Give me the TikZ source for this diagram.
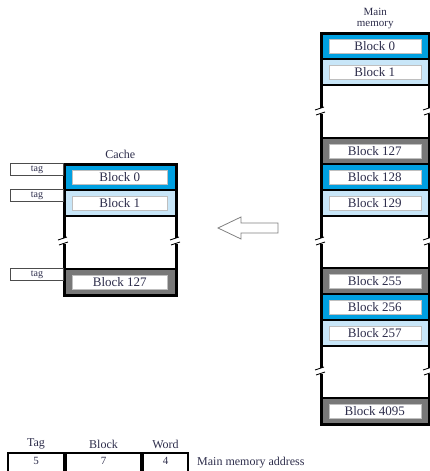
\documentclass[tikz,border=0pt]{standalone}
\usepackage{fontspec}
\setmainfont{Liberation Serif}
\usetikzlibrary{positioning}
\definecolor{blkblue}{RGB}{0,160,225}
\definecolor{blklight}{RGB}{200,230,248}
\definecolor{blkgray}{RGB}{120,120,120}
\definecolor{inktext}{RGB}{45,45,75}
\tikzset{
  row/.style={draw=black, line width=1.5pt, minimum height=26pt, inner sep=0pt, anchor=north west},
  blabel/.style={fill=white, draw=gray!50, minimum height=14pt, inner sep=0pt,
    font=\fontsize{13}{13}\selectfont, text=inktext},
  tagbox/.style={draw=black!70, line width=0.8pt, minimum width=53pt, minimum height=12pt,
    inner sep=0pt, anchor=north west, font=\fontsize{10}{10}\selectfont, text=inktext},
  field/.style={draw=black, line width=2pt, minimum height=24pt, inner sep=0pt, anchor=north west},
  txt/.style={font=\fontsize{12}{10}\selectfont, text=inktext, inner sep=1pt}
}
\newcommand{\cutmark}[2]{%
  \fill[white] (#1-4,#2-3) rectangle (#1+4,#2+3);
  \draw[line width=0.9pt] (#1-5,#2-1) -- (#1+4,#2-4);
  \draw[line width=0.9pt] (#1-4,#2+4) -- (#1+5,#2+1);
}

\begin{document}
\begin{tikzpicture}[x=1pt, y=-1pt]
  \useasboundingbox (0,0) rectangle (430,471);

  % main memory
  \foreach \y/\n/\c/\t in {32/m0/blkblue/0, 58/m1/blklight/1, 137/m127/blkgray/127,
      163/m128/blkblue/128, 189/m129/blklight/129, 267/m255/blkgray/255,
      293/m256/blkblue/256, 319/m257/blklight/257, 397/m4095/blkgray/4095} {
    \node[row, fill=\c, minimum width=108pt] (\n) at (320,\y) {};
    \node[blabel, minimum width=92pt] at (\n.center) {Block \t};
  }
  \node[draw, line width=2.5pt, minimum width=108pt, minimum height=391pt,
    inner sep=0pt, anchor=north west] (mem) at (320,32) {};
  \foreach \y in {111,241,371} {
    \cutmark{320}{\y}
    \cutmark{428}{\y}
  }
  \node[txt, font=\fontsize{11}{11}\selectfont, align=center, above=2pt of mem] {Main\\memory};

  % cache
  \foreach \y/\n/\c/\t in {163/c0/blkblue/0, 189/c1/blklight/1, 268/c127/blkgray/127} {
    \node[row, fill=\c, minimum width=112pt] (\n) at (63,\y) {};
    \node[blabel, minimum width=95pt] at (\n.center) {Block \t};
  }
  \node[draw, line width=2.5pt, minimum width=112pt, minimum height=131pt,
    inner sep=0pt, anchor=north west] (cache) at (63,163) {};
  \cutmark{63}{241}
  \cutmark{175}{241}
  \node[txt, above=3pt of cache] {Cache};

  % tags
  \node[tagbox] (t0) at (10,163) {tag};
  \node[tagbox] (t1) at (10,189) {tag};
  \node[tagbox] (t127) at (10,268) {tag};

  % hollow arrow
  \draw[gray, line width=0.8pt] (278,223) -- (241,223) -- (241,217) -- (218,228)
    -- (241,239) -- (241,233) -- (278,233) -- cycle;

  % address format
  \node[field, minimum width=56pt] (ftag) at (7,452) {};
  \node[field, minimum width=75pt, right=0pt of ftag] (fblk) {};
  \node[field, minimum width=45pt, right=0pt of fblk] (fword) {};
  \node[txt, font=\fontsize{11}{11}\selectfont] at ([yshift=-9pt]ftag.north) {5};
  \node[txt, font=\fontsize{11}{11}\selectfont] at ([yshift=-9pt]fblk.north) {7};
  \node[txt, font=\fontsize{11}{11}\selectfont] at ([yshift=-9pt]fword.north) {4};
  \node[txt, above=2pt of ftag] {Tag};
  \node[txt, above=2pt of fblk] {Block};
  \node[txt, above=2pt of fword] {Word};
  \node[txt, anchor=west] at (196,463) {Main memory address};
\end{tikzpicture}
\end{document}
